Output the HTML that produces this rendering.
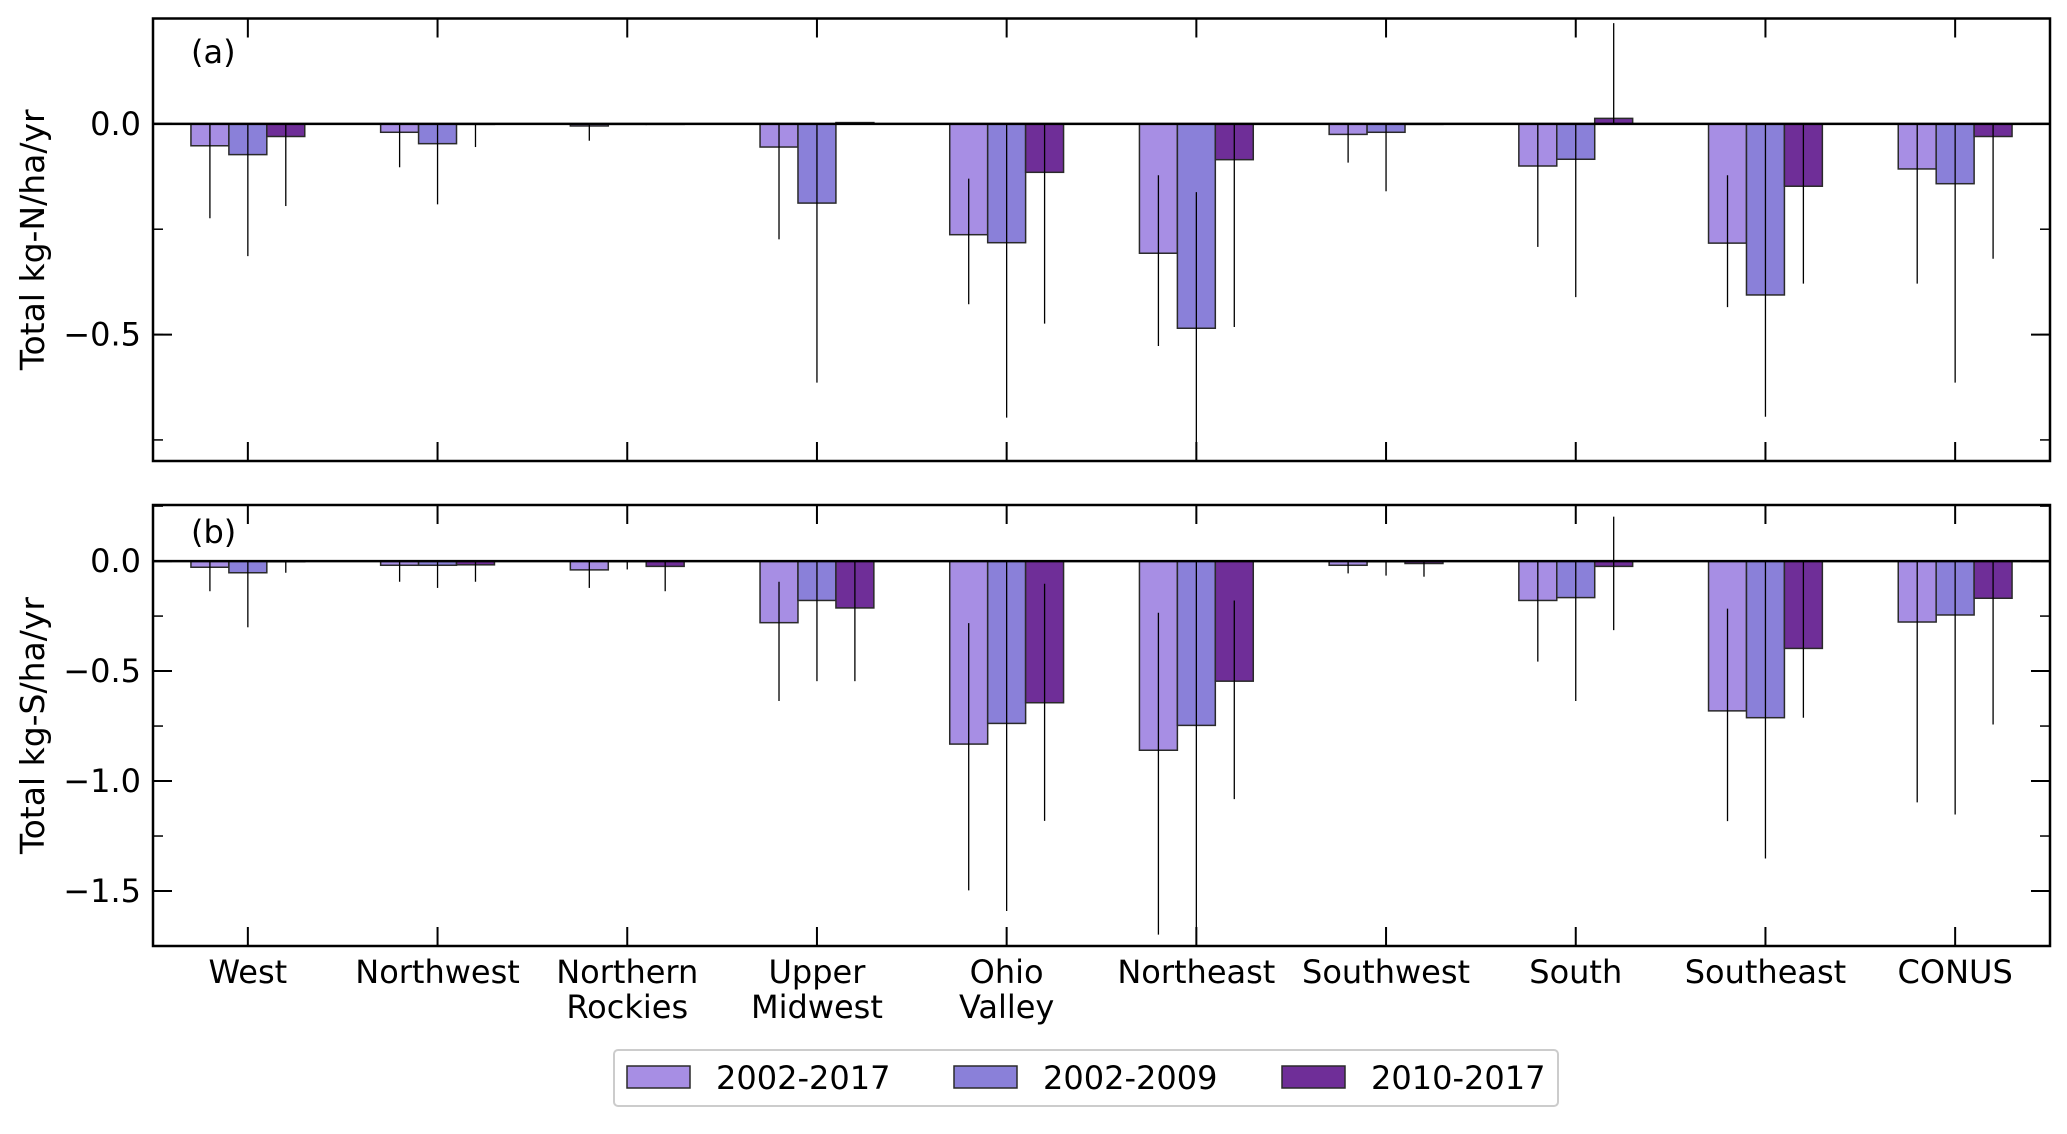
<!DOCTYPE html>
<html><head><meta charset="utf-8">
<style>
html,body{margin:0;padding:0;background:#fff;}
svg text{font-family:"DejaVu Sans","Liberation Sans",sans-serif;}
</style></head>
<body>
<svg id="chart" width="2067" height="1129" viewBox="0 0 2067 1129" xmlns="http://www.w3.org/2000/svg"></svg>
<script>
const categories = ["West","Northwest","Northern\nRockies","Upper\nMidwest","Ohio\nValley","Northeast","Southwest","South","Southeast","CONUS"];
const seriesNames = ["2002-2017","2002-2009","2010-2017"];
const nVals = [
  [-0.052,-0.020,-0.005,-0.055,-0.263,-0.307,-0.025,-0.100,-0.283,-0.107],
  [-0.073,-0.047,0,-0.188,-0.282,-0.485,-0.020,-0.084,-0.406,-0.142],
  [-0.030,0,0,0.003,-0.115,-0.085,0,0.013,-0.148,-0.030]
];
const nHi = [
  [0,0,0,0,-0.13,-0.122,0,0,-0.122,0],
  [0,0,0,0,0,-0.162,0,0,0,0],
  [0,0,0,0,0,0,0,0.239,0,0]
];
const nLo = [
  [-0.224,-0.103,-0.040,-0.274,-0.428,-0.527,-0.092,-0.292,-0.435,-0.379],
  [-0.314,-0.191,0,-0.614,-0.697,-0.85,-0.160,-0.411,-0.695,-0.614],
  [-0.195,-0.055,0,0,-0.474,-0.482,0,0,-0.379,-0.320]
];
const sVals = [
  [-0.028,-0.019,-0.040,-0.280,-0.832,-0.860,-0.019,-0.179,-0.681,-0.277],
  [-0.053,-0.019,0,-0.179,-0.738,-0.747,-0.003,-0.166,-0.712,-0.245],
  [-0.003,-0.017,-0.024,-0.213,-0.644,-0.546,-0.011,-0.024,-0.397,-0.169]
];
const sHi = [
  [0,0,0,-0.094,-0.282,-0.235,0,0,-0.216,0],
  [0,0,0,0,0,0,0,0,0,0],
  [0,0,0,0,-0.103,-0.179,0,0.202,0,0]
];
const sLo = [
  [-0.137,-0.094,-0.122,-0.636,-1.497,-1.698,-0.056,-0.457,-1.182,-1.097],
  [-0.301,-0.122,-0.038,-0.546,-1.591,-1.80,-0.066,-0.636,-1.352,-1.152],
  [-0.053,-0.094,-0.137,-0.546,-1.181,-1.082,-0.071,-0.314,-0.712,-0.743]
];
const nTicks = [0.0,-0.5];
const nTickLabels = ["0.0","\u22120.5"];
const sTicks = [0.0,-0.5,-1.0,-1.5];
const sTickLabels = ["0.0","\u22120.5","\u22121.0","\u22121.5"];

const colors = ["#a78ee4","#8a80d9","#6f2e98"];
const svg = document.getElementById('chart');
const NS = "http://www.w3.org/2000/svg";
function mk(tag, attrs, parent){
  const e = document.createElementNS(NS, tag);
  for (const k in attrs) e.setAttribute(k, attrs[k]);
  (parent||svg).appendChild(e);
  return e;
}
const X0 = 153, X1 = 2050;
function xScale(v){ return X0 + (v + 0.5) / 10 * (X1 - X0); }
const BW = (X1 - X0) / 10 * 0.2;
const FS = 32;

function panel(opts){
  const {top, bottom, ymin, ymax, vals, hi, lo, ticks, tickLabels, label, ylabel, name} = opts;
  const g = mk('g', {});
  
  
  const y = v => top + (ymax - v) / (ymax - ymin) * (bottom - top);
  const clip = mk('clipPath', {id: name + '-clip'}, g);
  mk('rect', {x: X0, y: top, width: X1 - X0, height: bottom - top}, clip);
  const plot = mk('g', {'clip-path': 'url(#' + name + '-clip)'}, g);
  for (let s = 0; s < 3; s++){
    for (let i = 0; i < categories.length; i++){
      const cx = xScale(i) + (s - 1) * BW;
      const v = vals[s][i];
      const y0 = y(0), y1 = y(v);
      const r = mk('rect', {x: cx - BW/2, y: Math.min(y0,y1), width: BW, height: Math.max(Math.abs(y1 - y0), 0.5), fill: colors[s], stroke: '#2a2a2a', 'stroke-width': 1.5}, plot);
      
      
    }
  }
  for (let s = 0; s < 3; s++){
    for (let i = 0; i < categories.length; i++){
      const cx = xScale(i) + (s - 1) * BW;
      if (hi[s][i] === lo[s][i]) continue;
      const l = mk('line', {x1: cx, x2: cx, y1: y(hi[s][i]), y2: y(lo[s][i]), stroke: '#000', 'stroke-width': 1.3}, plot);
      
      
    }
  }
  mk('line', {x1: X0, x2: X1, y1: y(0), y2: y(0), stroke: '#000', 'stroke-width': 2.5}, g);
  for (let v = Math.ceil(ymin / 0.25) * 0.25; v <= ymax + 1e-9; v += 0.25){
    const yy = y(v);
    mk('line', {x1: X0, x2: X0 + 10, y1: yy, y2: yy, stroke: '#000', 'stroke-width': 1.5}, g);
    mk('line', {x1: X1, x2: X1 - 10, y1: yy, y2: yy, stroke: '#000', 'stroke-width': 1.5}, g);
  }
  ticks.forEach((v, k) => {
    const yy = y(v);
    mk('line', {x1: X0, x2: X0 + 19, y1: yy, y2: yy, stroke: '#000', 'stroke-width': 2}, g);
    mk('line', {x1: X1, x2: X1 - 19, y1: yy, y2: yy, stroke: '#000', 'stroke-width': 2}, g);
    const t = mk('text', {x: 141, y: yy + 11, 'text-anchor': 'end', 'font-size': FS}, g);
    t.textContent = tickLabels[k];
    
    
  });
  for (let i = 0; i < categories.length; i++){
    const xx = xScale(i);
    mk('line', {x1: xx, x2: xx, y1: top, y2: top + 19, stroke: '#000', 'stroke-width': 2}, g);
    mk('line', {x1: xx, x2: xx, y1: bottom, y2: bottom - 19, stroke: '#000', 'stroke-width': 2}, g);
  }
  mk('rect', {x: X0, y: top, width: X1 - X0, height: bottom - top, fill: 'none', stroke: '#000', 'stroke-width': 2.5}, g);
  const pl = mk('text', {x: 191, y: opts.labelY, 'font-size': FS}, g);
  pl.textContent = label;
  
  
  const cy = (top + bottom) / 2;
  const yl = mk('text', {x: 0, y: 0, 'text-anchor': 'middle', 'font-size': 33, transform: 'translate(44,' + cy + ') rotate(-90)'}, g);
  yl.textContent = ylabel;
  
  
  return y;
}

panel({top: 18.5, bottom: 461, ymin: -0.8, ymax: 0.25, vals: nVals, hi: nHi, lo: nLo, ticks: nTicks, tickLabels: nTickLabels, label: '(a)', ylabel: 'Total kg-N/ha/yr', name: 'panel-a', labelY: 63});
panel({top: 505, bottom: 946, ymin: -1.75, ymax: 0.255, vals: sVals, hi: sHi, lo: sLo, ticks: sTicks, tickLabels: sTickLabels, label: '(b)', ylabel: 'Total kg-S/ha/yr', name: 'panel-b', labelY: 543});

for (let i = 0; i < categories.length; i++){
  const lines = categories[i].split('\n');
  lines.forEach((ln, k) => {
    const t = mk('text', {x: xScale(i), y: 983 + k * 35, 'text-anchor': 'middle', 'font-size': FS});
    t.textContent = ln;
    
    
  });
}

const lg = mk('g', {});


mk('rect', {x: 614, y: 1050, width: 944, height: 56, rx: 4, fill: '#fff', stroke: '#ccc', 'stroke-width': 2}, lg);
const patchX = [627, 954, 1282];
for (let s = 0; s < 3; s++){
  const e = mk('g', {}, lg);
  
  
  mk('rect', {x: patchX[s], y: 1066, width: 63, height: 22, fill: colors[s], stroke: '#2a2a2a', 'stroke-width': 1.5}, e);
  const t = mk('text', {x: patchX[s] + 89, y: 1089, 'font-size': FS}, e);
  t.textContent = seriesNames[s];
}
</script>
</body></html>
